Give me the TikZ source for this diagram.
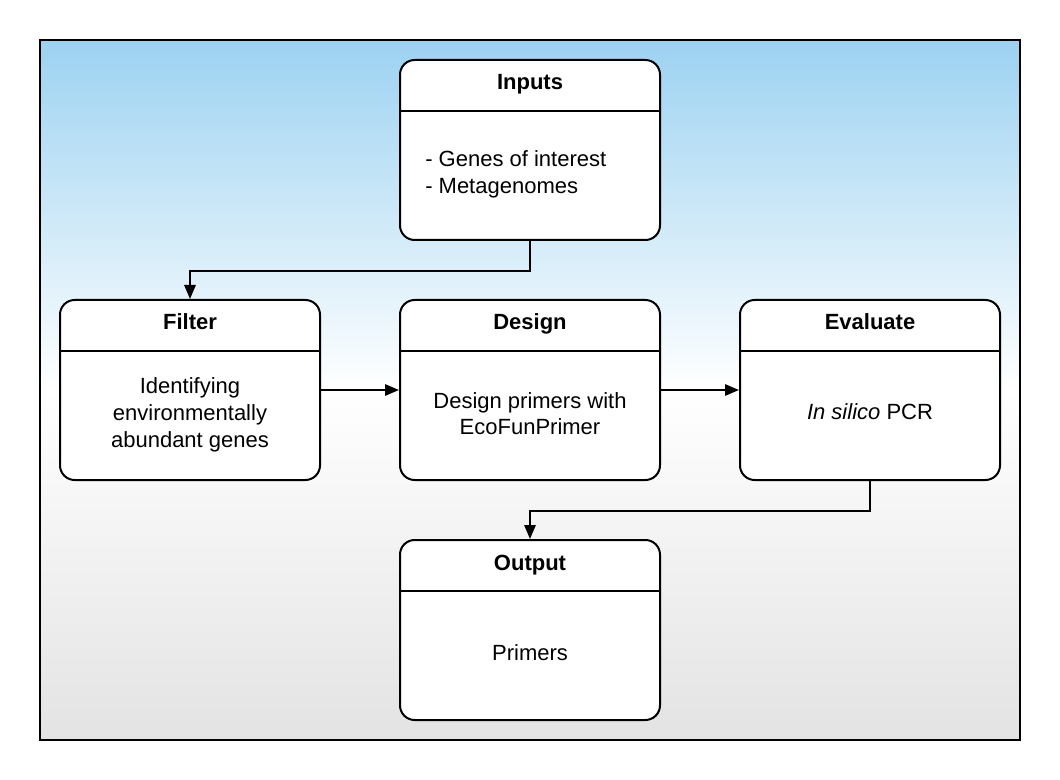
\documentclass[tikz,border=0pt]{standalone}
\usepackage{fontspec}
\setmainfont{Liberation Sans}
\usetikzlibrary{arrows.meta}
\definecolor{bgtop}{RGB}{156,210,241}
\definecolor{bgbot}{RGB}{227,227,227}
\tikzset{
  box/.style={draw=black, line width=1.5pt, fill=white, rounded corners=11pt,
    minimum width=195pt, minimum height=135pt, inner sep=0pt},
  divline/.style={draw=black, line width=1.5pt},
  hdr/.style={font=\fontsize{16.5}{20}\selectfont\bfseries, inner sep=0pt, anchor=base},
  body/.style={font=\fontsize{16.5}{20.25}\selectfont, inner sep=0pt, align=center, anchor=base},
  conn/.style={draw=black, line width=1.5pt, -{Triangle[length=10.5pt,width=8.5pt]}},
}
\begin{document}
\begin{tikzpicture}[x=0.75pt, y=-0.75pt]
\useasboundingbox (0,0) rectangle (1060,780);
% background
\shade[top color=bgtop, bottom color=white] (40,40) rectangle (1020,390);
\shade[top color=white, bottom color=bgbot] (40,390) rectangle (1020,740);
\draw[line width=1.5pt] (40,40) rectangle (1020,740);

% boxes
\node[box] (inputs) at (530,150) {};
\node[box] (filter) at (190,390) {};
\node[box] (design) at (530,390) {};
\node[box] (evaluate) at (870,390) {};
\node[box] (output) at (530,630) {};

% dividers
\foreach \b in {inputs,filter,design,evaluate,output}{
  \draw[divline] ([yshift=-39pt]\b.north west) -- ([yshift=-39pt]\b.north east);
}

% headers
\node[hdr] (inputsH) at ([yshift=-23.25pt]inputs.north) {Inputs};
\node[hdr] (filterH) at ([yshift=-23.25pt]filter.north) {Filter};
\node[hdr] (designH) at ([yshift=-23.25pt]design.north) {Design};
\node[hdr] (evaluateH) at ([yshift=-23.25pt]evaluate.north) {Evaluate};
\node[hdr] (outputH) at ([yshift=-23.25pt]output.north) {Output};

% bodies (base anchor = baseline of the last line)
\node[body, align=left, anchor=base west] (inputsB) at (425,194) {- Genes of interest\\- Metagenomes};
\node[body] (filterB) at (190,447) {Identifying\\environmentally\\abundant genes};
\node[body] (designB) at (530,435) {Design primers with\\EcoFunPrimer};
\node[body] (evaluateB) at (870,420) {\textit{In silico} PCR};
\node[body] (outputB) at (530,660) {Primers};

% connectors
\draw[conn] (inputs.south) -- ++(0,30) -| (filter.north);
\draw[conn] (filter.east) -- (design.west);
\draw[conn] (design.east) -- (evaluate.west);
\draw[conn] (evaluate.south) -- ++(0,30) -| (output.north);
\end{tikzpicture}
\end{document}
